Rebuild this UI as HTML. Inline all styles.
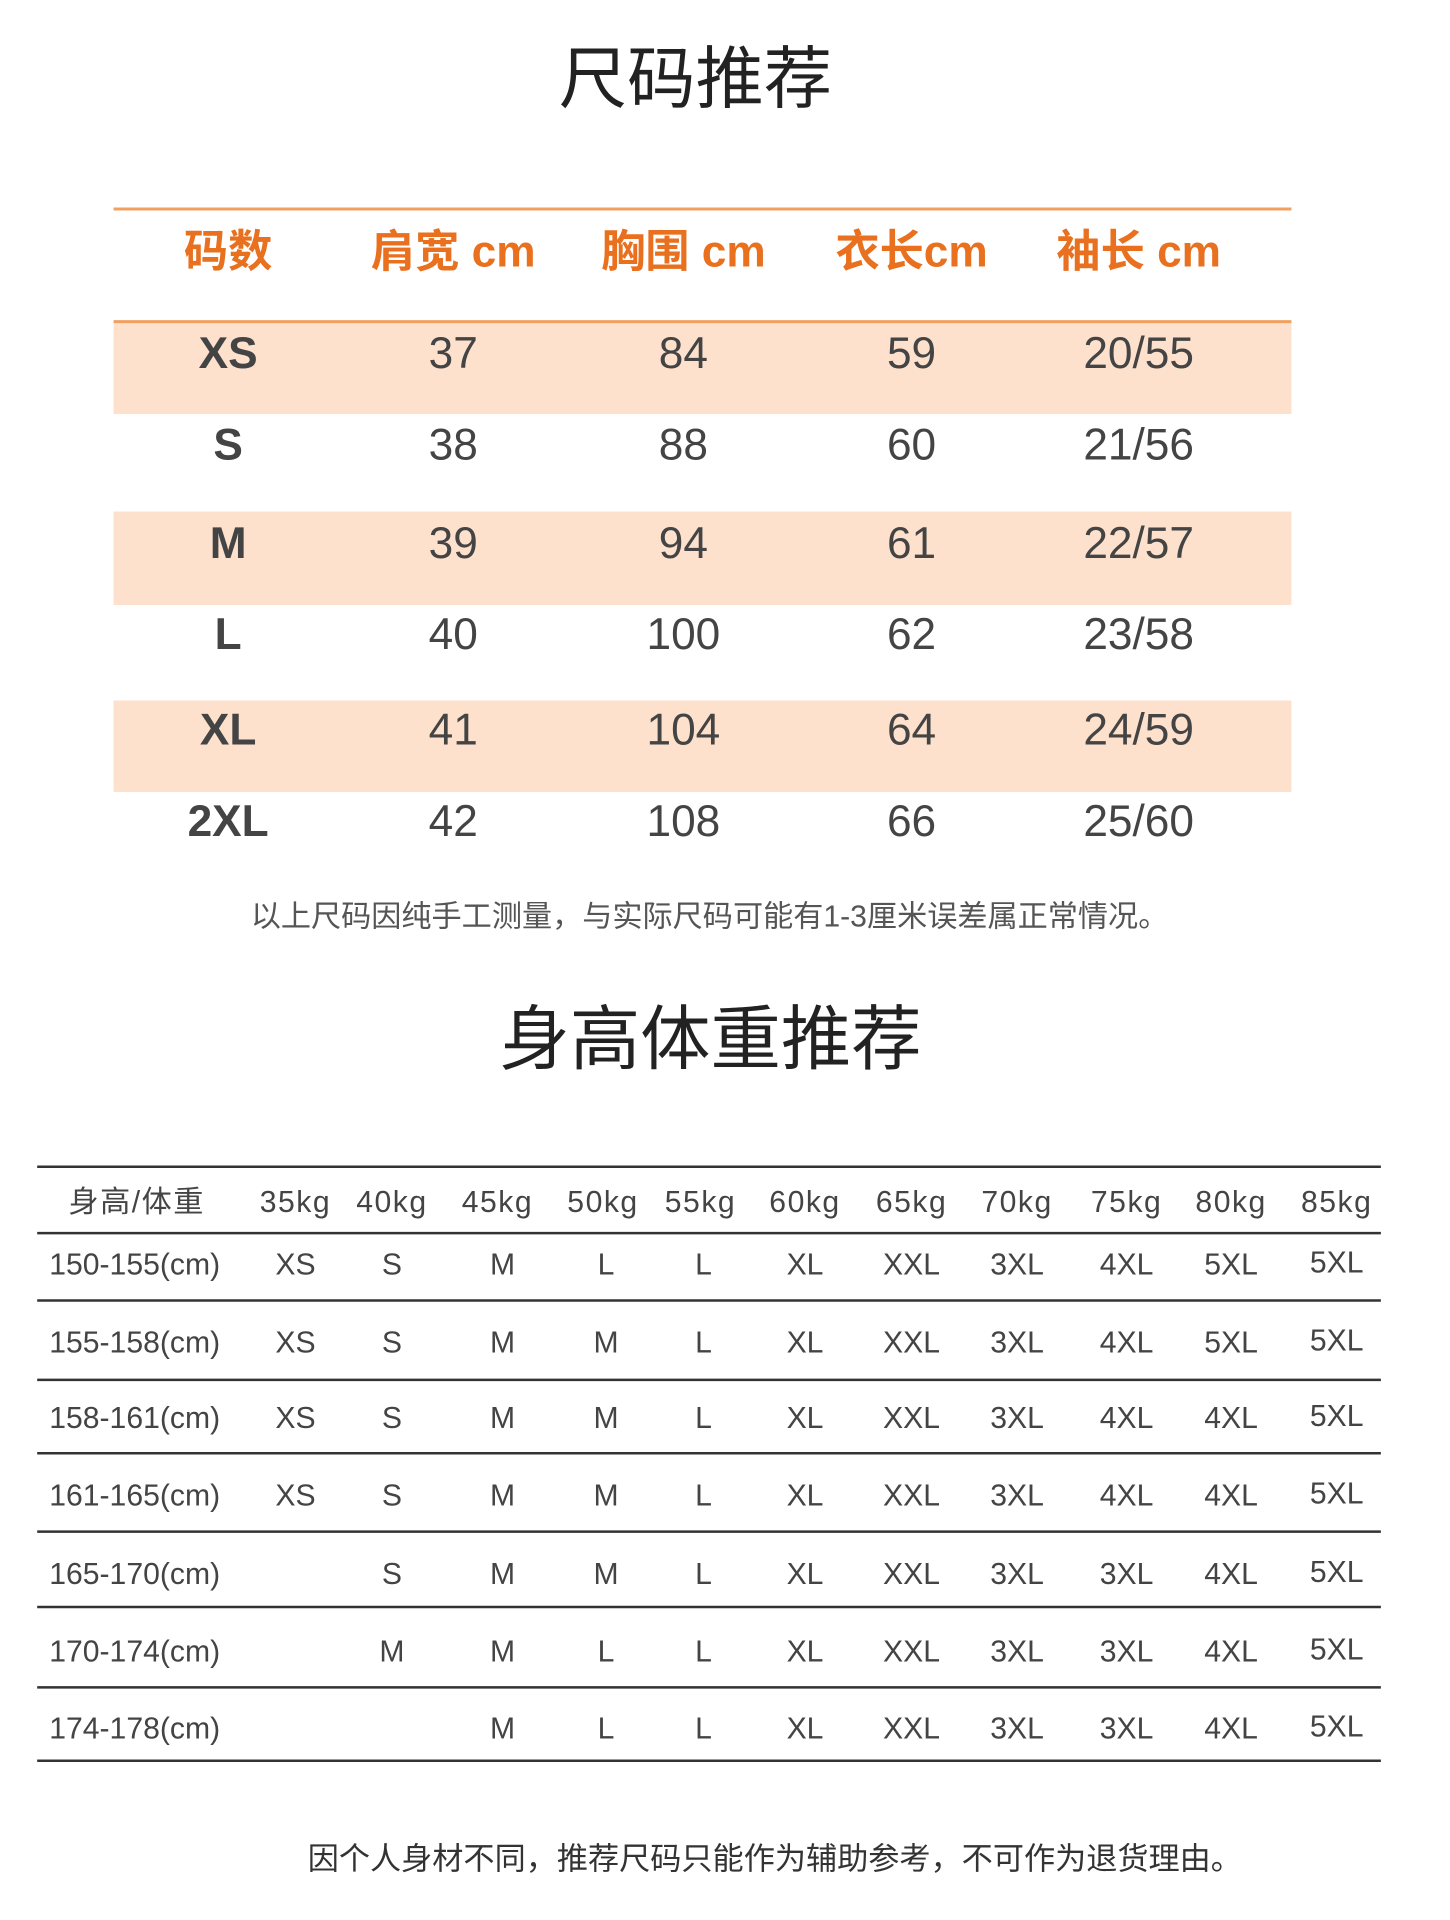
<!DOCTYPE html>
<html><head><meta charset="utf-8"><style>
html,body{margin:0;padding:0;background:#fff;}
svg{display:block;}
text{font-family:"Liberation Sans","Noto Sans CJK SC",sans-serif;}
</style></head><body>
<svg width="1450" height="1920" viewBox="0 0 1450 1920" xmlns="http://www.w3.org/2000/svg">
<rect width="1450" height="1920" fill="#fff"/>
<g transform="scale(1.005)">
<text x="692" y="102" font-size="68" text-anchor="middle" fill="#222">尺码推荐</text>
<line x1="113" y1="208" x2="1285" y2="208" stroke="#f0a060" stroke-width="3"/>
<g font-size="44" font-weight="bold" fill="#e8701e" text-anchor="middle">
<text x="227" y="265">码数</text><text x="451" y="265">肩宽 cm</text><text x="680" y="265">胸围 cm</text><text x="907" y="265">衣长cm</text><text x="1133" y="265">袖长 cm</text>
</g>
<rect x="113" y="320" width="1172" height="92" fill="#fde1cd"/>
<rect x="113" y="509" width="1172" height="93" fill="#fde1cd"/>
<rect x="113" y="697" width="1172" height="91" fill="#fde1cd"/>
<line x1="113" y1="320" x2="1285" y2="320" stroke="#f0a060" stroke-width="3"/>
<g font-size="44" fill="#444" text-anchor="middle">
<g font-weight="bold"><text x="227" y="366">XS</text><text x="227" y="457">S</text><text x="227" y="555">M</text><text x="227" y="646">L</text><text x="227" y="741">XL</text><text x="227" y="832">2XL</text></g>
<text x="451" y="366">37</text><text x="680" y="366">84</text><text x="907" y="366">59</text><text x="1133" y="366">20/55</text>
<text x="451" y="457">38</text><text x="680" y="457">88</text><text x="907" y="457">60</text><text x="1133" y="457">21/56</text>
<text x="451" y="555">39</text><text x="680" y="555">94</text><text x="907" y="555">61</text><text x="1133" y="555">22/57</text>
<text x="451" y="646">40</text><text x="680" y="646">100</text><text x="907" y="646">62</text><text x="1133" y="646">23/58</text>
<text x="451" y="741">41</text><text x="680" y="741">104</text><text x="907" y="741">64</text><text x="1133" y="741">24/59</text>
<text x="451" y="832">42</text><text x="680" y="832">108</text><text x="907" y="832">66</text><text x="1133" y="832">25/60</text>
</g>
<text x="706" y="922" font-size="30" fill="#555" text-anchor="middle">以上尺码因纯手工测量，与实际尺码可能有1-3厘米误差属正常情况。</text>
<text x="707" y="1058" font-size="70" text-anchor="middle" fill="#222">身高体重推荐</text>
<g stroke="#333" stroke-width="2.5">
<line x1="37" y1="1161" x2="1374" y2="1161"/><line x1="37" y1="1227" x2="1374" y2="1227"/>
<line x1="37" y1="1294" x2="1374" y2="1294"/><line x1="37" y1="1373" x2="1374" y2="1373"/>
<line x1="37" y1="1446" x2="1374" y2="1446"/><line x1="37" y1="1524" x2="1374" y2="1524"/>
<line x1="37" y1="1599" x2="1374" y2="1599"/><line x1="37" y1="1679" x2="1374" y2="1679"/>
<line x1="37" y1="1752" x2="1374" y2="1752"/>
</g>
<g font-size="30" fill="#444" text-anchor="middle" letter-spacing="1.5">
<text x="136" y="1206">身高/体重</text>
<text x="294" y="1206">35kg</text><text x="390" y="1206">40kg</text><text x="495" y="1206">45kg</text><text x="600" y="1206">50kg</text><text x="697" y="1206">55kg</text><text x="801" y="1206">60kg</text><text x="907" y="1206">65kg</text><text x="1012" y="1206">70kg</text><text x="1121" y="1206">75kg</text><text x="1225" y="1206">80kg</text><text x="1330" y="1206">85kg</text>
</g>
<g font-size="30" fill="#444" text-anchor="middle">
<g text-anchor="start"><text x="49" y="1268">150-155(cm)</text><text x="49" y="1346">155-158(cm)</text><text x="49" y="1421">158-161(cm)</text><text x="49" y="1498">161-165(cm)</text><text x="49" y="1576">165-170(cm)</text><text x="49" y="1653">170-174(cm)</text><text x="49" y="1730">174-178(cm)</text></g>
<text x="294" y="1268">XS</text><text x="390" y="1268">S</text><text x="500" y="1268">M</text><text x="603" y="1268">L</text><text x="700" y="1268">L</text><text x="801" y="1268">XL</text><text x="907" y="1268">XXL</text><text x="1012" y="1268">3XL</text><text x="1121" y="1268">4XL</text><text x="1225" y="1268">5XL</text><text x="1330" y="1266">5XL</text>
<text x="294" y="1346">XS</text><text x="390" y="1346">S</text><text x="500" y="1346">M</text><text x="603" y="1346">M</text><text x="700" y="1346">L</text><text x="801" y="1346">XL</text><text x="907" y="1346">XXL</text><text x="1012" y="1346">3XL</text><text x="1121" y="1346">4XL</text><text x="1225" y="1346">5XL</text><text x="1330" y="1344">5XL</text>
<text x="294" y="1421">XS</text><text x="390" y="1421">S</text><text x="500" y="1421">M</text><text x="603" y="1421">M</text><text x="700" y="1421">L</text><text x="801" y="1421">XL</text><text x="907" y="1421">XXL</text><text x="1012" y="1421">3XL</text><text x="1121" y="1421">4XL</text><text x="1225" y="1421">4XL</text><text x="1330" y="1419">5XL</text>
<text x="294" y="1498">XS</text><text x="390" y="1498">S</text><text x="500" y="1498">M</text><text x="603" y="1498">M</text><text x="700" y="1498">L</text><text x="801" y="1498">XL</text><text x="907" y="1498">XXL</text><text x="1012" y="1498">3XL</text><text x="1121" y="1498">4XL</text><text x="1225" y="1498">4XL</text><text x="1330" y="1496">5XL</text>
<text x="390" y="1576">S</text><text x="500" y="1576">M</text><text x="603" y="1576">M</text><text x="700" y="1576">L</text><text x="801" y="1576">XL</text><text x="907" y="1576">XXL</text><text x="1012" y="1576">3XL</text><text x="1121" y="1576">3XL</text><text x="1225" y="1576">4XL</text><text x="1330" y="1574">5XL</text>
<text x="390" y="1653">M</text><text x="500" y="1653">M</text><text x="603" y="1653">L</text><text x="700" y="1653">L</text><text x="801" y="1653">XL</text><text x="907" y="1653">XXL</text><text x="1012" y="1653">3XL</text><text x="1121" y="1653">3XL</text><text x="1225" y="1653">4XL</text><text x="1330" y="1651">5XL</text>
<text x="500" y="1730">M</text><text x="603" y="1730">L</text><text x="700" y="1730">L</text><text x="801" y="1730">XL</text><text x="907" y="1730">XXL</text><text x="1012" y="1730">3XL</text><text x="1121" y="1730">3XL</text><text x="1225" y="1730">4XL</text><text x="1330" y="1728">5XL</text>
</g>
<text x="771" y="1860" font-size="31" fill="#333" text-anchor="middle">因个人身材不同，推荐尺码只能作为辅助参考，不可作为退货理由。</text>
</g>
</svg>
</body></html>
